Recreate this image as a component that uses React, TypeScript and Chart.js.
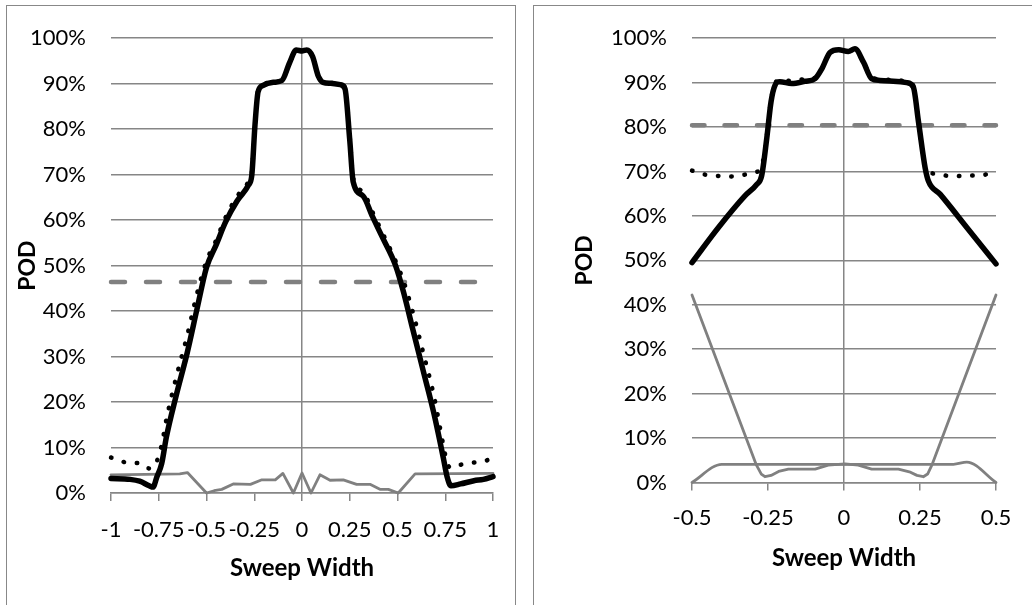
import React, { useEffect, useRef } from "react";
import { Chart, registerables } from "chart.js";

Chart.register(...registerables);

const FONT = "Lato, 'Open Sans', sans-serif";
const GRID = "#868686";
const GRAY = "#808080";

// ---------- Left chart (Sweep Width -1 .. 1) ----------
const leftX = [-1, -0.9, -0.85, -0.8, -0.78, -0.76, -0.735, -0.71, -0.66, -0.6, -0.55, -0.5, -0.45, -0.4, -0.34, -0.28, -0.263, -0.246, -0.23, -0.205, -0.15, -0.105, -0.065, -0.03, 0, 0.025, 0.055, 0.085, 0.11, 0.15, 0.2, 0.225, 0.25, 0.268, 0.32, 0.37, 0.42, 0.49, 0.53, 0.58, 0.635, 0.69, 0.74, 0.76, 0.78, 0.83, 0.9, 0.95, 1];
const leftSolid = [3.2, 3.0, 2.6, 1.6, 1.3, 3.5, 6.4, 12.3, 21.2, 31.0, 40.4, 49.6, 54.5, 59.6, 64.2, 67.7, 69.8, 81.0, 88.2, 89.6, 90.3, 90.7, 94.6, 97.4, 97.2, 97.4, 96.0, 91.7, 90.3, 90.1, 89.8, 88.9, 77.6, 68.4, 65.3, 60.7, 56.3, 50.0, 44.4, 36.0, 26.8, 17.6, 7.7, 3.5, 1.6, 2.0, 2.7, 3.0, 3.6];
const leftDotted = [7.8, 6.6, 6.6, 5.4, 5.6, 7.0, 10.5, 16.2, 25.2, 34.8, 43.8, 51.0, 55.5, 60.6, 65.2, 68.4, 70.3, 81.5, 88.4, 89.8, 90.4, 90.8, 94.6, 97.4, 97.2, 97.4, 96.0, 91.9, 90.5, 90.2, 89.9, 89.2, 78.2, 69.2, 66.2, 61.7, 57.3, 51.0, 46.8, 39.8, 30.8, 21.5, 10.5, 6.6, 5.5, 6.2, 6.7, 6.9, 7.8];
const leftGrayX = [-1, -0.64, -0.6, -0.5, -0.46, -0.42, -0.36, -0.27, -0.21, -0.14, -0.1, -0.045, 0, 0.047, 0.094, 0.147, 0.216, 0.286, 0.356, 0.408, 0.452, 0.504, 0.592, 1];
const leftGray = [4.0, 4.2, 4.5, 0, 0.5, 0.8, 2.0, 1.9, 2.9, 2.9, 4.3, 0, 4.4, 0, 4.0, 2.8, 2.9, 1.9, 1.9, 0.8, 0.8, 0, 4.2, 4.3];
const leftDashX = [-1, 1];
const leftDash = [46.4, 46.4];
const leftTicks = [-1, -0.75, -0.5, -0.25, 0, 0.25, 0.5, 0.75, 1];

// ---------- Right chart (Sweep Width -0.5 .. 0.5) ----------
const rightX = [-0.5, -0.413, -0.326, -0.287, -0.271, -0.254, -0.24, -0.227, -0.211, -0.172, -0.128, -0.095, -0.073, -0.046, -0.018, 0.014, 0.036, 0.064, 0.091, 0.118, 0.162, 0.206, 0.228, 0.245, 0.267, 0.278, 0.316, 0.404, 0.5];
const rightSolid = [49.5, 57.4, 64.5, 67.1, 69.0, 77.5, 85.7, 89.4, 90.2, 89.8, 90.3, 90.9, 93.1, 96.8, 97.4, 97.0, 97.6, 94.6, 90.9, 90.5, 90.3, 90.0, 89.0, 81.2, 70.8, 67.8, 64.9, 57.4, 49.2];
const rightDottedX = [-0.5, -0.457, -0.413, -0.37, -0.326, -0.287, -0.271, -0.254, -0.24, -0.227, -0.211, -0.172, -0.128, -0.095, -0.073, -0.046, -0.018, 0.014, 0.036, 0.064, 0.091, 0.118, 0.162, 0.206, 0.228, 0.245, 0.267, 0.29, 0.316, 0.36, 0.404, 0.448, 0.5];
const rightDotted = [70.2, 69.3, 69.0, 68.9, 69.3, 69.9, 71.0, 78.0, 86.0, 89.8, 90.6, 90.4, 90.8, 91.1, 93.1, 96.8, 97.4, 97.0, 97.6, 94.6, 91.2, 90.8, 90.6, 90.3, 89.3, 81.2, 71.0, 69.6, 69.3, 68.9, 69.1, 69.1, 70.2];
const rightVX = [-0.5, -0.288, -0.272, -0.26, -0.24, -0.215, -0.183, -0.095, -0.052, 0.003, 0.047, 0.091, 0.179, 0.215, 0.24, 0.261, 0.275, 0.289, 0.5];
const rightV = [42.2, 3.9, 1.9, 1.3, 1.6, 2.5, 3.0, 3.0, 3.9, 4.2, 3.9, 3.0, 3.0, 2.4, 1.6, 1.3, 1.9, 3.9, 42.2];
const rightFlatX = [-0.5, -0.402, 0.36, 0.404, 0.5];
const rightFlat = [0, 4.1, 4.1, 4.6, 0];
const rightDashX = [-0.5, 0.5];
const rightDash = [80.4, 80.4];
const rightTicks = [-0.5, -0.25, 0, 0.25, 0.5];

const pts = (xs: number[], ys: number[]) => xs.map((x, i) => ({ x, y: ys[i] }));

type Layout = {
  w: number; h: number;
  left: number; right: number; top: number; bottom: number;
  xmin: number; xmax: number; ticks: number[];
  yLabelPad: number; xLabelPad: number; xTitlePad: number; yTitlePad: number;
  dash: number[]; dot: number[];
};

function solidDs(data: any[]) {
  return {
    data, borderColor: "#000", borderWidth: 5.5, pointRadius: 0,
    cubicInterpolationMode: "monotone", borderJoinStyle: "round", borderCapStyle: "round", clip: false,
  };
}

function makeConfig(L: Layout, datasets: any[]): any {
  return {
    type: "line",
    data: { datasets },
    options: {
      animation: false,
      responsive: false,
      events: [],
      layout: { padding: { left: 0, top: L.top, right: L.w - L.right, bottom: 0 } },
      plugins: { legend: { display: false }, tooltip: { enabled: false } },
      scales: {
        x: {
          type: "linear", min: L.xmin, max: L.xmax,
          afterBuildTicks: (s: any) => { s.ticks = L.ticks.map((v) => ({ value: v })); },
          afterFit: (s: any) => { s.height = L.h - L.bottom; },
          ticks: {
            autoSkip: false, maxRotation: 0, minRotation: 0, color: "#000",
            font: { family: FONT, size: 22 }, padding: L.xLabelPad,
            callback: (v: any) => String(Number(Number(v).toFixed(2))),
          },
          grid: {
            color: (c: any) => (c.tick && c.tick.value === 0 ? GRID : "rgba(0,0,0,0)"),
            tickColor: GRID, lineWidth: 1.5, tickLength: 8, drawTicks: true,
          },
          border: { display: true, color: GRID, width: 1.5 },
          title: {
            display: true, text: "Sweep Width", color: "#000",
            font: { family: FONT, size: 24, weight: "bold" },
            padding: { top: 0, bottom: L.xTitlePad },
          },
        },
        y: {
          type: "linear", min: 0, max: 100,
          afterFit: (s: any) => { s.width = L.left; },
          ticks: {
            stepSize: 10, color: "#000", font: { family: FONT, size: 22 }, padding: L.yLabelPad,
            callback: (v: any) => v + "%",
          },
          grid: { color: GRID, lineWidth: 1.5, drawTicks: false },
          border: { display: false },
          title: {
            display: true, text: "POD", color: "#000",
            font: { family: FONT, size: 23, weight: "bold" },
            padding: { top: L.yTitlePad, bottom: 0 },
          },
        },
      },
    },
  };
}

const leftLayout: Layout = {
  w: 520, h: 605, left: 111, right: 493, top: 21, bottom: 493,
  xmin: -1, xmax: 1, ticks: leftTicks,
  yLabelPad: 25, xLabelPad: 15.8, xTitlePad: 22.6, yTitlePad: 14,
  dash: [14, 21], dot: [0.5, 12.8],
};
const rightLayout: Layout = {
  w: 512, h: 605, left: 172, right: 476, top: 34, bottom: 482.5,
  xmin: -0.5, xmax: 0.5, ticks: rightTicks,
  yLabelPad: 25, xLabelPad: 14.3, xTitlePad: 32.6, yTitlePad: 51,
  dash: [12.5, 20], dot: [0.5, 12.8],
};

function dottedDs(data: any[], L: Layout) {
  return {
    data, borderColor: "#000", borderWidth: 4.5, pointRadius: 0, borderDash: L.dot,
    borderCapStyle: "round", cubicInterpolationMode: "monotone", clip: false,
  };
}
function dashDs(data: any[], L: Layout) {
  return {
    data, borderColor: GRAY, borderWidth: 4.5, pointRadius: 0, borderDash: L.dash,
    borderCapStyle: "round", clip: false,
  };
}
function grayDs(data: any[], smooth: boolean) {
  return {
    data, borderColor: GRAY, borderWidth: 2.8, pointRadius: 0, clip: false,
    borderJoinStyle: "round", borderCapStyle: "round",
    ...(smooth ? { cubicInterpolationMode: "monotone" } : { tension: 0 }),
  };
}

export default function App() {
  const c1 = useRef<HTMLCanvasElement>(null);
  const c2 = useRef<HTMLCanvasElement>(null);

  useEffect(() => {
    const ch1 = new Chart(
      c1.current!,
      makeConfig(leftLayout, [
        dottedDs(pts(leftX, leftDotted), leftLayout),
        solidDs(pts(leftX, leftSolid)),
        grayDs(pts(leftGrayX, leftGray), false),
        dashDs(pts(leftDashX, leftDash), leftLayout),
      ])
    );
    const ch2 = new Chart(
      c2.current!,
      makeConfig(rightLayout, [
        dottedDs(pts(rightDottedX, rightDotted), rightLayout),
        solidDs(pts(rightX, rightSolid)),
        grayDs(pts(rightVX, rightV), false),
        grayDs(pts(rightFlatX, rightFlat), true),
        dashDs(pts(rightDashX, rightDash), rightLayout),
      ])
    );
    return () => {
      ch1.destroy();
      ch2.destroy();
    };
  }, []);

  return (
    <div style={{ position: "fixed", left: 0, top: 0, width: 1032, height: 605, overflow: "hidden", background: "#fff" }}>
      <div style={{ position: "absolute", left: 6, top: 5, width: 510, height: 700, border: "1px solid #888", boxSizing: "border-box" }} />
      <div style={{ position: "absolute", left: 533, top: 5, width: 600, height: 700, border: "1px solid #888", boxSizing: "border-box" }} />
      <canvas ref={c1} width={520} height={605} style={{ position: "absolute", left: 0, top: 0, width: 520, height: 605 }} />
      <canvas ref={c2} width={512} height={605} style={{ position: "absolute", left: 520, top: 0, width: 512, height: 605 }} />
    </div>
  );
}
